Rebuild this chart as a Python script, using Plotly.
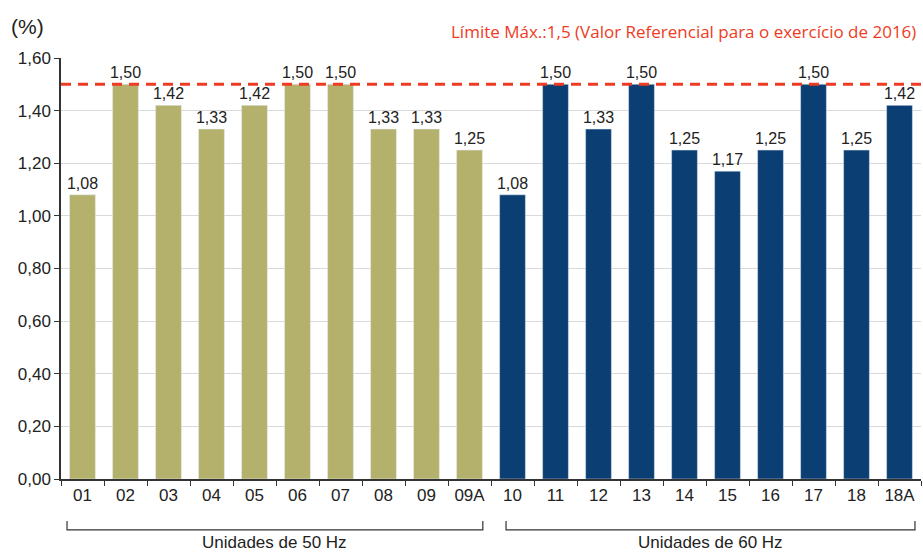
import plotly.graph_objects as go

units_50 = ["01", "02", "03", "04", "05", "06", "07", "08", "09", "09A"]
values_50 = [1.08, 1.50, 1.42, 1.33, 1.42, 1.50, 1.50, 1.33, 1.33, 1.25]
units_60 = ["10", "11", "12", "13", "14", "15", "16", "17", "18", "18A"]
values_60 = [1.08, 1.50, 1.33, 1.50, 1.25, 1.17, 1.25, 1.50, 1.25, 1.42]
limit = 1.5
y_ticks = [0, 0.2, 0.4, 0.6, 0.8, 1.0, 1.2, 1.4, 1.6]

label_font = dict(family="Liberation Sans, Arial", size=16, color="#222222")

fig = go.Figure()
fig.add_trace(go.Bar(x=units_50, y=values_50, marker_color="#B4B16C",
                     texttemplate="%{y:.2f}", textposition="outside", constraintext="none",
                     textfont=label_font, cliponaxis=False, name="50 Hz"))
fig.add_trace(go.Bar(x=units_60, y=values_60, marker_color="#0B3E72",
                     texttemplate="%{y:.2f}", textposition="outside", constraintext="none",
                     textfont=label_font, cliponaxis=False, name="60 Hz"))

# limit line
fig.add_shape(type="line", xref="paper", x0=0, x1=1, yref="y", y0=limit, y1=limit,
              line=dict(color="#EE3B24", width=3, dash="10px,7px"), layer="above")

# brackets under the category labels
n50 = len(units_50)
n_all = n50 + len(units_60)
brackets = [(-0.36, n50 - 0.69, "Unidades de 50 Hz"),
            (n50 - 0.15, n_all - 0.64, "Unidades de 60 Hz")]
for x0, x1, label in brackets:
    fig.add_shape(type="path", xref="x", yref="paper",
                  path=f"M {x0},-0.100 L {x0},-0.121 L {x1},-0.121 L {x1},-0.100",
                  line=dict(color="#333333", width=1.2))
    fig.add_annotation(x=(x0 + x1) / 2, xref="x", y=-0.150, yref="paper",
                       text=label, showarrow=False, yanchor="middle",
                       font=dict(family="Liberation Sans, Arial", size=17, color="#222222"))

fig.add_annotation(x=0.997, xref="paper", y=1.062, yref="paper", xanchor="right", yanchor="middle",
                   text="Límite Máx.:1,5 (Valor Referencial para o exercício de 2016)",
                   showarrow=False, font=dict(family="Open Sans", size=17, color="#EE3B24"))
fig.add_annotation(x=0, xref="paper", xanchor="left", xshift=-52, y=1.075, yref="paper",
                   yanchor="middle", text="(%)", showarrow=False,
                   font=dict(family="Liberation Sans, Arial", size=21, color="#222222"))

fig.update_layout(
    width=923, height=554,
    margin=dict(l=61, r=2, t=58, b=75),
    plot_bgcolor="white", paper_bgcolor="white",
    barmode="overlay", bargap=0.4, showlegend=False,
    separators=",.",
    font=dict(family="Liberation Sans, Arial", size=17, color="#222222"),
)
fig.update_xaxes(type="category", categoryorder="array", categoryarray=units_50 + units_60,
                 tickson="boundaries", ticks="outside", ticklen=5, tickcolor="#333333",
                 showline=True, linecolor="#333333", linewidth=1.5, showgrid=False,
                 tickfont=dict(size=17))
fig.update_yaxes(range=[0, 1.6], tickvals=y_ticks, tickformat=".2f",
                 ticks="outside", ticklen=5, tickcolor="#333333",
                 showline=True, linecolor="#333333", linewidth=1.5,
                 showgrid=True, gridcolor="#D9D9D9", gridwidth=1, zeroline=False,
                 tickfont=dict(size=17))

fig.write_html("out.html", config={"displayModeBar": False},
               post_script="document.body.style.margin='0';")
